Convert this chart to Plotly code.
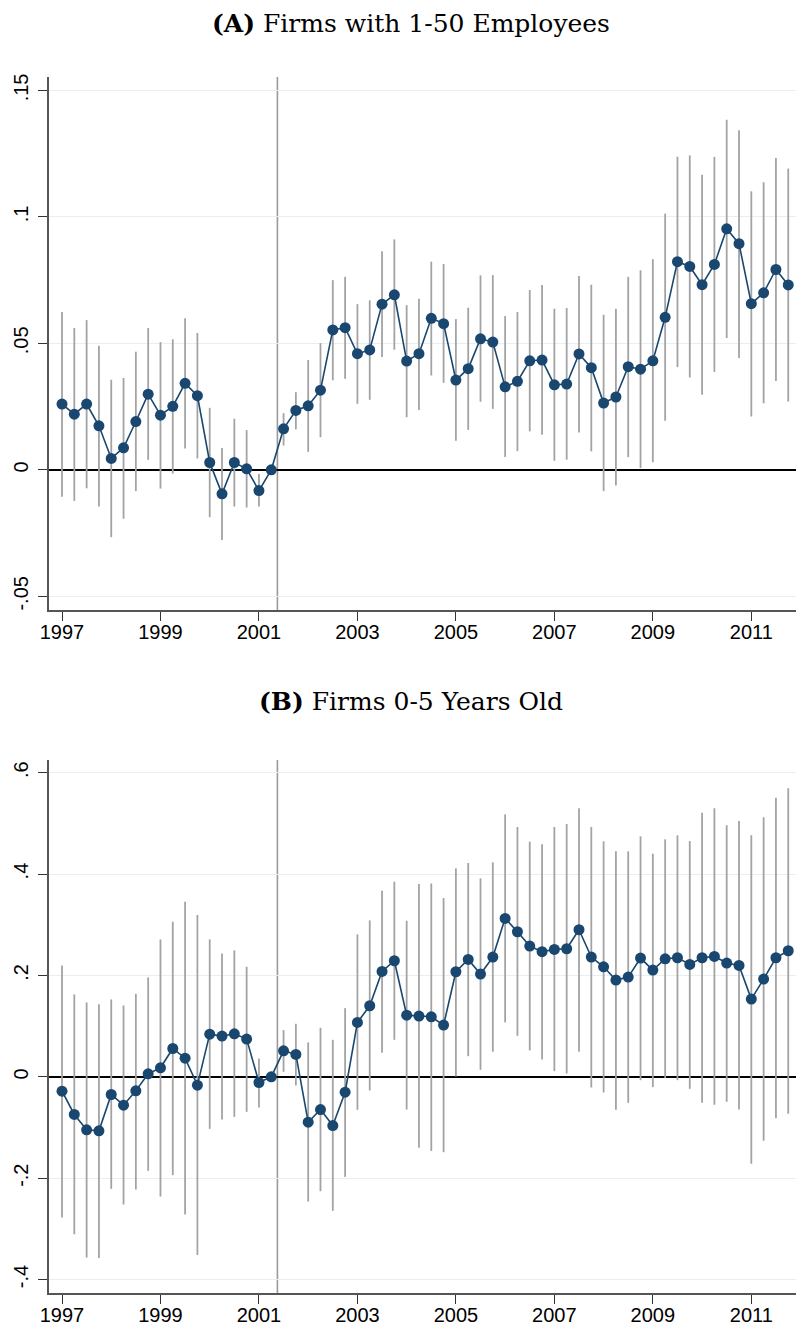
# Event-study style chart: point estimates with confidence intervals, two panels
import plotly.graph_objects as go

# quarters 1997q1 .. 2011q4 as decimal years
quarters = [1997.0, 1997.25, 1997.5, 1997.75, 1998.0, 1998.25, 1998.5, 1998.75,
            1999.0, 1999.25, 1999.5, 1999.75, 2000.0, 2000.25, 2000.5, 2000.75,
            2001.0, 2001.25, 2001.5, 2001.75, 2002.0, 2002.25, 2002.5, 2002.75,
            2003.0, 2003.25, 2003.5, 2003.75, 2004.0, 2004.25, 2004.5, 2004.75,
            2005.0, 2005.25, 2005.5, 2005.75, 2006.0, 2006.25, 2006.5, 2006.75,
            2007.0, 2007.25, 2007.5, 2007.75, 2008.0, 2008.25, 2008.5, 2008.75,
            2009.0, 2009.25, 2009.5, 2009.75, 2010.0, 2010.25, 2010.5, 2010.75,
            2011.0, 2011.25, 2011.5, 2011.75]

# panel A: firms with 1-50 employees
a_est = [0.0260, 0.0220, 0.0260, 0.0174, 0.0045, 0.0087, 0.0191, 0.0299,
         0.0216, 0.0251, 0.0342, 0.0293, 0.0029, -0.0095, 0.0029, 0.0004,
         -0.0082, 0.0, 0.0162, 0.0235, 0.0253, 0.0315, 0.0553, 0.0562,
         0.0459, 0.0474, 0.0655, 0.0692, 0.0430, 0.0459, 0.0599, 0.0578,
         0.0355, 0.0400, 0.0518, 0.0505, 0.0328, 0.0350, 0.0431, 0.0434,
         0.0336, 0.0339, 0.0458, 0.0404, 0.0264, 0.0288, 0.0408, 0.0398,
         0.0431, 0.0603, 0.0823, 0.0804, 0.0732, 0.0812, 0.0953, 0.0894,
         0.0657, 0.0700, 0.0792, 0.0731]
a_hi = [0.0624, 0.0561, 0.0592, 0.0491, 0.0356, 0.0363, 0.0467, 0.0561,
        0.0505, 0.0516, 0.0599, 0.0541, 0.0245, 0.0086, 0.0202, 0.0157,
        -0.0016, None, 0.0224, 0.0307, 0.0434, 0.0501, 0.0750, 0.0763,
        0.0655, 0.0670, 0.0864, 0.0911, 0.0651, 0.0676, 0.0823, 0.0814,
        0.0596, 0.0641, 0.0769, 0.0770, 0.0608, 0.0624, 0.0711, 0.0731,
        0.0637, 0.0640, 0.0766, 0.0732, 0.0613, 0.0637, 0.0763, 0.0789,
        0.0833, 0.1013, 0.1238, 0.1243, 0.1167, 0.1237, 0.1384, 0.1342,
        0.1101, 0.1137, 0.1233, 0.1191]
a_lo = [-0.0106, -0.0123, -0.0073, -0.0145, -0.0266, -0.0193, -0.0084, 0.0040,
        -0.0074, -0.0015, 0.0084, 0.0045, -0.0187, -0.0277, -0.0145, -0.0149,
        -0.0145, None, 0.0096, 0.0160, 0.0071, 0.0129, 0.0354, 0.0360,
        0.0261, 0.0277, 0.0446, 0.0475, 0.0208, 0.0237, 0.0373, 0.0344,
        0.0115, 0.0158, 0.0269, 0.0241, 0.0051, 0.0074, 0.0152, 0.0139,
        0.0036, 0.0040, 0.0148, 0.0073, -0.0084, -0.0062, 0.0050, 0.0007,
        0.0030, 0.0194, 0.0406, 0.0365, 0.0297, 0.0387, 0.0521, 0.0442,
        0.0211, 0.0263, 0.0351, 0.0270]

# panel B: firms 0-5 years old
b_est = [-0.0283, -0.0743, -0.1046, -0.1066, -0.0349, -0.0559, -0.0276, 0.0059,
         0.0178, 0.0559, 0.0368, -0.0165, 0.0842, 0.0803, 0.0849, 0.0744,
         -0.0112, 0.0, 0.0513, 0.0441, -0.0895, -0.0645, -0.0961, -0.0303,
         0.1073, 0.1402, 0.2079, 0.2290, 0.1217, 0.1198, 0.1184, 0.1020,
         0.2073, 0.2316, 0.2027, 0.2362, 0.3126, 0.2862, 0.2580, 0.2468,
         0.2514, 0.2527, 0.2902, 0.2362, 0.2171, 0.1908, 0.1967, 0.2342,
         0.2106, 0.2329, 0.2349, 0.2218, 0.2349, 0.2375, 0.2244, 0.2198,
         0.1533, 0.1928, 0.2349, 0.2487]
b_hi = [0.2197, 0.1625, 0.1467, 0.1434, 0.1527, 0.1408, 0.1638, 0.1961,
        0.2711, 0.3060, 0.3455, 0.3191, 0.2711, 0.2435, 0.2494, 0.2171,
        0.0362, None, 0.0921, 0.1046, 0.0678, 0.0967, 0.0730, 0.1355,
        0.2810, 0.3086, 0.3672, 0.3849, 0.3079, 0.3803, 0.3816, 0.3527,
        0.4113, 0.4218, 0.3915, 0.4231, 0.5178, 0.4929, 0.4639, 0.4586,
        0.4929, 0.4988, 0.5297, 0.4929, 0.4645, 0.4448, 0.4448, 0.4744,
        0.4402, 0.4685, 0.4764, 0.4652, 0.5211, 0.5297, 0.4961, 0.5047,
        0.4764, 0.5119, 0.5508, 0.5692]
b_lo = [-0.2777, -0.3106, -0.3566, -0.3573, -0.2211, -0.2520, -0.2224, -0.1856,
        -0.2362, -0.1941, -0.2718, -0.3514, -0.1026, -0.0842, -0.0790, -0.0691,
        -0.0605, None, 0.0099, -0.0171, -0.2461, -0.2257, -0.2645, -0.1974,
        -0.0651, -0.0270, 0.0474, 0.0730, -0.0645, -0.1401, -0.1461, -0.1487,
        0.0007, 0.0408, 0.0138, 0.0494, 0.1073, 0.0809, 0.0520, 0.0342,
        0.0112, 0.0066, 0.0494, -0.0211, -0.0309, -0.0651, -0.0513, -0.0066,
        -0.0204, -0.0026, -0.0066, -0.0237, -0.0513, -0.0553, -0.0494, -0.0645,
        -0.1717, -0.1263, -0.0816, -0.0730]

x_ticks = [1997, 1999, 2001, 2003, 2005, 2007, 2009, 2011]
a_ticks = [-0.05, 0, 0.05, 0.1, 0.15]
a_ticktext = ["-.05", "0", ".05", ".1", ".15"]
b_ticks = [-0.4, -0.2, 0, 0.2, 0.4, 0.6]
b_ticktext = ["-.4", "-.2", "0", ".2", ".4", ".6"]

event_date = 2001.375

NAVY = "#1a476f"
CI_GRAY = "#a3a3a3"
GRID = "#e6eff1"
TICKFONT = dict(family="Liberation Sans, Arial", size=20, color="black")


def ci_segments(xs, lo, hi):
    ''' build a broken line: one vertical segment per quarter '''
    sx, sy = [], []
    for x, l, h in zip(xs, lo, hi):
        if l is None or h is None:
            continue
        sx += [x, x, None]
        sy += [l, h, None]
    return sx, sy


fig = go.Figure()

for est, lo, hi, xa, ya in [(a_est, a_lo, a_hi, "x", "y"), (b_est, b_lo, b_hi, "x2", "y2")]:
    sx, sy = ci_segments(quarters, lo, hi)
    fig.add_trace(go.Scatter(x=sx, y=sy, mode="lines", xaxis=xa, yaxis=ya,
                             line=dict(color=CI_GRAY, width=1.8),
                             hoverinfo="skip", showlegend=False))
    fig.add_trace(go.Scatter(x=quarters, y=est, mode="lines+markers", xaxis=xa, yaxis=ya,
                             line=dict(color=NAVY, width=1.6),
                             marker=dict(color=NAVY, size=11),
                             showlegend=False))

xaxis_style = dict(range=[1996.736, 2012.07], tickvals=x_ticks, ticks="outside",
                   ticklen=9, tickwidth=1.2, tickcolor="#333", showgrid=False,
                   zeroline=False, showline=True, linecolor="#555", linewidth=1.5,
                   tickfont=TICKFONT, ticklabelstandoff=-6, automargin=False)
yaxis_style = dict(ticks="outside", ticklen=9, tickwidth=1.2, tickcolor="#333",
                   showgrid=True, gridcolor=GRID, gridwidth=1.3,
                   zeroline=True, zerolinecolor="black", zerolinewidth=1.6,
                   showline=True, linecolor="#555", linewidth=1.5,
                   tickangle=-90, tickfont=TICKFONT, ticklabelstandoff=2,
                   automargin=False)

# the page body adds an 8px margin, so the figure is 8px smaller than the window
fig.update_layout(
    width=796, height=1317,
    margin=dict(l=41, r=0, t=69, b=32),
    plot_bgcolor="white", paper_bgcolor="white",
    xaxis=dict(domain=[0, 1], anchor="y", **xaxis_style),
    yaxis=dict(domain=[0.5617, 1], anchor="x", range=[-0.0554, 0.1553],
               tickvals=a_ticks, ticktext=a_ticktext, **yaxis_style),
    xaxis2=dict(domain=[0, 1], anchor="y2", **xaxis_style),
    yaxis2=dict(domain=[0, 0.4383], anchor="x2", range=[-0.4265, 0.625],
                tickvals=b_ticks, ticktext=b_ticktext, **yaxis_style),
)

for xr, yr in [("x", "y"), ("x2", "y2")]:
    fig.add_shape(type="line", xref=xr, yref=yr + " domain", x0=event_date, x1=event_date,
                  y0=0, y1=1, line=dict(color="#9a9a9a", width=1.6), layer="below")

title_font = dict(family="DejaVu Serif", size=25, color="black")
fig.add_annotation(text="<b>(A)</b> Firms with 1-50 Employees", xref="paper", yref="paper",
                   x=0.480, y=1.0, yanchor="middle", yshift=54, showarrow=False,
                   font=title_font)
fig.add_annotation(text="<b>(B)</b> Firms 0-5 Years Old", xref="paper", yref="paper",
                   x=0.480, y=0.4383, yanchor="middle", yshift=59, showarrow=False,
                   font=title_font)

fig.write_html("out.html")
